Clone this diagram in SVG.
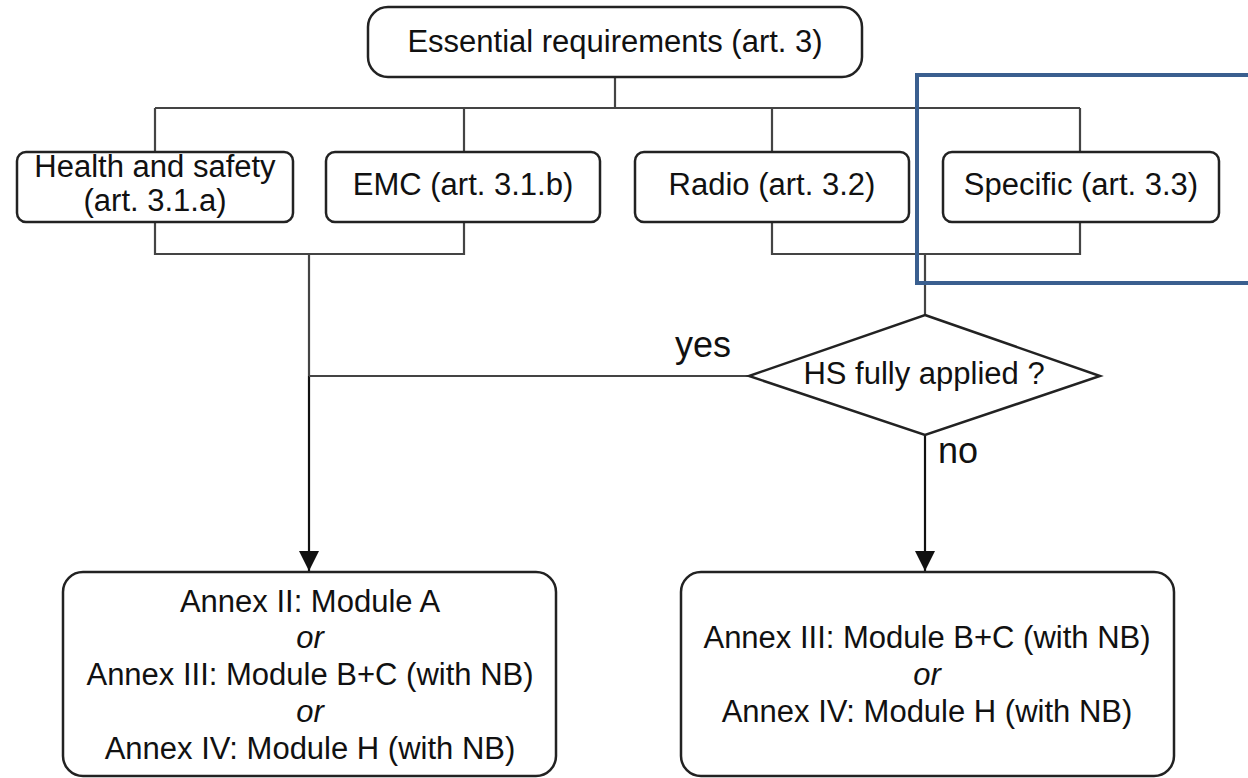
<svg xmlns="http://www.w3.org/2000/svg" width="1248" height="778" viewBox="0 0 1248 778">
<defs>
<style>
.box{fill:#fff;stroke:#222;stroke-width:2.5}
.t{font-family:"Liberation Sans",Arial,sans-serif;font-size:31px;fill:#111;text-anchor:middle}
.i{font-style:italic}
.lab{font-family:"Liberation Sans",Arial,sans-serif;font-size:36px;fill:#111}
.c{fill:none;stroke:#444;stroke-width:2.2}
.a{fill:none;stroke:#111;stroke-width:2.2}
</style>
<marker id="arr" viewBox="0 0 20 20" refX="20" refY="10" markerWidth="20" markerHeight="20" markerUnits="userSpaceOnUse" orient="auto">
<path d="M0,0 L20,10 L0,20 Z" fill="#111"/>
</marker>
</defs>
<rect width="1248" height="778" fill="#fff"/>
<g id="connectors">
<path class="c" d="M615,77 V108 M155,108 H1080 M155,108 V152 M464,108 V152 M772,108 V152 M1080,108 V152"/>
<path class="c" d="M155,222 V254 H464 V222 M772,222 V254 H1080 V222"/>
<path class="c" d="M309,254 V376"/>
<path class="a" d="M309,376 V571" marker-end="url(#arr)"/>
<path class="c" d="M925,254 V315"/>
<path class="c" d="M749,376 H309"/>
<path class="a" d="M925,435 V571" marker-end="url(#arr)"/>
<text class="lab" x="675" y="357">yes</text>
<text class="lab" x="938" y="463">no</text>
</g>
<g id="essential">
<rect class="box" x="368" y="7" width="494" height="70" rx="20"/>
<text class="t" x="615" y="52">Essential requirements (art. 3)</text>
</g>
<g id="health">
<rect class="box" x="17" y="152" width="276" height="70" rx="9"/>
<text class="t" x="155" y="177">Health and safety</text>
<text class="t" x="155" y="211">(art. 3.1.a)</text>
</g>
<g id="emc">
<rect class="box" x="326" y="152" width="274" height="70" rx="9"/>
<text class="t" x="463" y="195">EMC (art. 3.1.b)</text>
</g>
<g id="radio">
<rect class="box" x="635" y="152" width="274" height="70" rx="9"/>
<text class="t" x="772" y="195">Radio (art. 3.2)</text>
</g>
<g id="specific">
<rect class="box" x="943" y="152" width="276" height="70" rx="9"/>
<text class="t" x="1081" y="195">Specific (art. 3.3)</text>
</g>
<g id="decision">
<path class="box" d="M925,315 L1100,376 L925,435 L749,376 Z"/>
<text class="t" x="924" y="384">HS fully applied ?</text>
</g>
<g id="left-result">
<rect class="box" x="63" y="572" width="493" height="204" rx="20"/>
<text class="t" x="310" y="612">Annex II: Module A</text>
<text class="t i" x="310" y="648">or</text>
<text class="t" x="310" y="685">Annex III: Module B+C (with NB)</text>
<text class="t i" x="310" y="722">or</text>
<text class="t" x="310" y="759">Annex IV: Module H (with NB)</text>
</g>
<g id="right-result">
<rect class="box" x="681" y="572" width="493" height="204" rx="20"/>
<text class="t" x="927" y="648">Annex III: Module B+C (with NB)</text>
<text class="t i" x="927" y="685">or</text>
<text class="t" x="927" y="722">Annex IV: Module H (with NB)</text>
</g>
<rect id="highlight" x="917" y="75" width="340" height="208" fill="none" stroke="#3a5f8f" stroke-width="4"/>
</svg>
